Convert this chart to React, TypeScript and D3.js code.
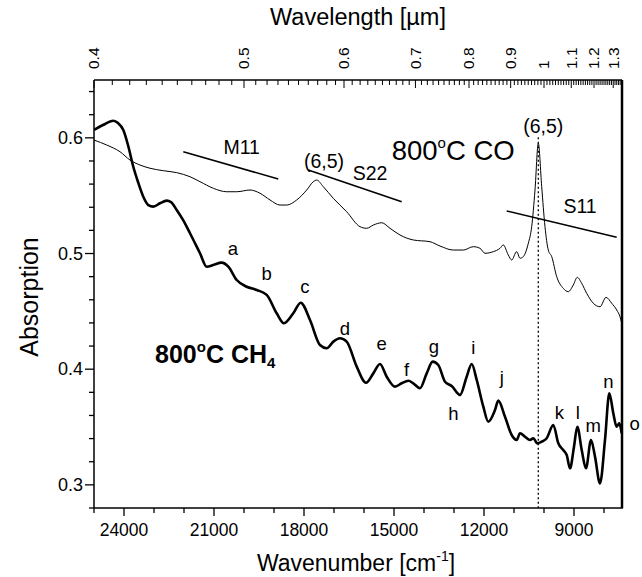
import React from "react";
import * as d3 from "d3";

// 800°C CO (thin) spectrum
const coWavenumber = [25000, 24577, 24133, 23800, 23467, 23133, 22690, 22243, 21800, 21467, 21023, 20577, 20243, 19800, 19467, 19133, 18800, 18577, 18243, 17910, 17690, 17577, 17357, 17023, 16577, 16133, 15910, 15690, 15410, 15133, 14800, 14357, 13800, 13467, 13023, 12690, 12357, 12133, 11967, 11690, 11467, 11357, 11190, 11077, 10910, 10800, 10690, 10523, 10410, 10300, 10190, 10077, 9967, 9857, 9743, 9577, 9357, 9190, 9023, 8890, 8743, 8577, 8357, 8133, 7933, 7743, 7577, 7467, 7410];
const coAbsorption = [0.5981, 0.5938, 0.588, 0.5808, 0.5765, 0.5737, 0.5716, 0.5699, 0.5664, 0.5621, 0.5564, 0.5534, 0.5534, 0.5549, 0.5521, 0.5463, 0.5419, 0.5419, 0.5463, 0.5549, 0.5621, 0.5635, 0.5578, 0.5477, 0.5361, 0.5232, 0.5218, 0.5246, 0.5266, 0.5218, 0.516, 0.5117, 0.5102, 0.5065, 0.503, 0.503, 0.5059, 0.5045, 0.5002, 0.5016, 0.5045, 0.5074, 0.4987, 0.4944, 0.5016, 0.4959, 0.4973, 0.5088, 0.5232, 0.5549, 0.5953, 0.5578, 0.5232, 0.503, 0.4973, 0.48, 0.4699, 0.467, 0.4728, 0.4794, 0.4742, 0.4656, 0.457, 0.454, 0.4621, 0.457, 0.4512, 0.4454, 0.4397];

// 800°C CH4 (thick) spectrum
const ch4Wavenumber = [25000, 24700, 24357, 24200, 24023, 23867, 23690, 23533, 23357, 23190, 23023, 22800, 22577, 22433, 22243, 22033, 21800, 21467, 21243, 21023, 20743, 20523, 20243, 19910, 19577, 19243, 18910, 18667, 18357, 18110, 17800, 17467, 17243, 17023, 16800, 16577, 16243, 15933, 15690, 15467, 15243, 14967, 14743, 14523, 14357, 14133, 13910, 13710, 13523, 13300, 13077, 12800, 12577, 12410, 12243, 12023, 11857, 11633, 11523, 11300, 11077, 10910, 10800, 10633, 10467, 10357, 10223, 10077, 9910, 9690, 9523, 9357, 9243, 9133, 9000, 8890, 8743, 8600, 8433, 8300, 8133, 7967, 7823, 7690, 7577, 7490, 7410];
const ch4Absorption = [0.6068, 0.6111, 0.6148, 0.6128, 0.6068, 0.5938, 0.575, 0.5618, 0.5491, 0.5419, 0.5405, 0.5434, 0.5457, 0.5445, 0.5376, 0.529, 0.5175, 0.5002, 0.4886, 0.4901, 0.4921, 0.4886, 0.4771, 0.4713, 0.4685, 0.4642, 0.4483, 0.4397, 0.4483, 0.4575, 0.4425, 0.4209, 0.4181, 0.4238, 0.4267, 0.4238, 0.4022, 0.3883, 0.3964, 0.4045, 0.3935, 0.3849, 0.3878, 0.39, 0.3878, 0.3835, 0.3964, 0.4065, 0.4036, 0.3892, 0.3855, 0.3777, 0.3935, 0.4045, 0.3907, 0.3676, 0.3546, 0.3647, 0.3728, 0.3589, 0.3431, 0.3388, 0.3446, 0.3416, 0.3388, 0.3403, 0.3359, 0.3373, 0.3403, 0.3518, 0.3359, 0.3301, 0.3258, 0.3143, 0.333, 0.3503, 0.3301, 0.3143, 0.3388, 0.3244, 0.3013, 0.3388, 0.3792, 0.3619, 0.3503, 0.3532, 0.3446];

const xTickValues = [24000, 21000, 18000, 15000, 12000, 9000];
const yTickValues = [0.3, 0.4, 0.5, 0.6];
const topTickLabels = ["0.4", "0.5", "0.6", "0.7", "0.8", "0.9", "1", "1.1", "1.2", "1.3"];

const peakLetters = ["a", "b", "c", "d", "e", "f", "g", "h", "i", "j", "k", "l", "m", "n", "o"];
const peakLetterWn = [20367, 19243, 17967, 16633, 15410, 14577, 13667, 13023, 12357, 11410, 9490, 8877, 8357, 7857, 6980];
const peakLetterAbs = [0.4987, 0.4771, 0.4659, 0.4296, 0.4166, 0.3941, 0.414, 0.3561, 0.4131, 0.3872, 0.3569, 0.3569, 0.3457, 0.3837, 0.3474];

// annotation bars: [wn1, abs1, wn2, abs2]
const bandNames = ["M11", "S22", "S11"];
const bandLines = [
  [22023, 0.588, 18857, 0.5644],
  [17857, 0.5722, 14743, 0.5448],
  [11243, 0.5368, 7577, 0.514],
];
const bandLabelPos = [
  [20077, 0.586],
  [15800, 0.5636],
  [8800, 0.535],
];
const chiralityLabel = "(6,5)";
const chiralityPos = [
  [17333, 0.5739],
  [10023, 0.6042],
];
const s11PeakWn = 10190;
const s11LineTop = 0.6005;

const W = 642;
const H = 577;
const M = { left: 94, right: 622, top: 80, bottom: 508 };
const FONT = "'Liberation Sans', Arial, Helvetica, sans-serif";

export default function App() {
  const x = d3.scaleLinear().domain([25000, 7400]).range([M.left, M.right]);
  const y = d3.scaleLinear().domain([0.28, 0.65]).range([M.bottom, M.top]);

  const line = d3
    .line<[number, number]>()
    .x((d) => x(d[0]))
    .y((d) => y(d[1]))
    .curve(d3.curveMonotoneX);

  const coPts: [number, number][] = coWavenumber.map((w, i) => [w, coAbsorption[i]]);
  const ch4Pts: [number, number][] = ch4Wavenumber.map((w, i) => [w, ch4Absorption[i]]);

  const xMinor = d3.range(25000, 7400, -1000);
  const yMinor = d3.range(0.28, 0.6501, 0.02);

  const topMinor = d3.range(40, 136).map((v) => v / 100).filter((l) => {
    const wn = 1e4 / l;
    return wn <= 25000 + 1 && wn >= 7400;
  });

  return (
    <svg width={W} height={H} style={{ position: "absolute", left: 0, top: 0, background: "#fff" }} fontFamily={FONT}>
      <rect x={0} y={0} width={W} height={H} fill="#fff" />
      <defs>
        <clipPath id="plotclip">
          <rect x={M.left} y={M.top} width={M.right - M.left} height={M.bottom - M.top} />
        </clipPath>
      </defs>

      {/* curves */}
      <g clipPath="url(#plotclip)">
        <path d={line(coPts) || ""} fill="none" stroke="#000" strokeWidth={1} />
        <path d={line(ch4Pts) || ""} fill="none" stroke="#000" strokeWidth={2.6} strokeLinejoin="round" />
      </g>

      {/* dotted S11 marker */}
      <line x1={x(s11PeakWn)} x2={x(s11PeakWn)} y1={y(s11LineTop)} y2={M.bottom} stroke="#000" strokeWidth={1.3} strokeDasharray="2,2.5" />

      {/* band lines */}
      {bandLines.map((b, i) => (
        <line key={"bl" + i} x1={x(b[0])} y1={y(b[1])} x2={x(b[2])} y2={y(b[3])} stroke="#000" strokeWidth={1.6} />
      ))}
      {bandNames.map((n, i) => (
        <text key={"bn" + i} x={x(bandLabelPos[i][0])} y={y(bandLabelPos[i][1])} textAnchor="middle" fontSize={19.5}>
          {n}
        </text>
      ))}
      {chiralityPos.map((p, i) => (
        <text key={"cp" + i} x={x(p[0])} y={y(p[1])} textAnchor="middle" fontSize={19.5}>
          {chiralityLabel}
        </text>
      ))}

      {/* sample labels */}
      <text x={x(15077)} y={y(0.5808)} fontSize={27.5}>
        800<tspan fontSize={15} dy={-12}>o</tspan>
        <tspan dy={12}>C CO</tspan>
      </text>
      <text x={x(22967)} y={y(0.4053)} fontSize={25} fontWeight="bold">
        800<tspan fontSize={15} dy={-11}>o</tspan>
        <tspan dy={11}>C CH</tspan>
        <tspan fontSize={15} dy={5}>4</tspan>
      </text>

      {/* peak letters */}
      {peakLetters.map((l, i) => (
        <text key={"pl" + i} x={x(peakLetterWn[i])} y={y(peakLetterAbs[i])} textAnchor="middle" fontSize={18.5}>
          {l}
        </text>
      ))}

      {/* frame */}
      <line x1={M.left} x2={M.right} y1={M.top} y2={M.top} stroke="#000" strokeWidth={1.5} />
      <line x1={M.left} x2={M.right + 1} y1={M.bottom} y2={M.bottom} stroke="#000" strokeWidth={1.5} />
      <line x1={M.left} x2={M.left} y1={M.top} y2={M.bottom} stroke="#000" strokeWidth={1.5} />
      <line x1={M.right} x2={M.right} y1={M.top} y2={M.bottom} stroke="#000" strokeWidth={2.5} />

      {/* bottom ticks */}
      {xMinor.map((v) => {
        const major = xTickValues.includes(v);
        return <line key={"xm" + v} x1={x(v)} x2={x(v)} y1={M.bottom} y2={M.bottom + (major ? 8 : 5)} stroke="#000" strokeWidth={1.3} />;
      })}
      {xTickValues.map((v) => (
        <text key={"xt" + v} x={x(v)} y={M.bottom + 28} textAnchor="middle" fontSize={17.5}>
          {v}
        </text>
      ))}

      {/* left ticks */}
      {yMinor.map((v, i) => {
        const major = yTickValues.some((t) => Math.abs(t - v) < 1e-6);
        return <line key={"ym" + i} x1={M.left - (major ? 9 : 5)} x2={M.left} y1={y(v)} y2={y(v)} stroke="#000" strokeWidth={1.3} />;
      })}
      {yTickValues.map((v) => (
        <text key={"yt" + v} x={M.left - 11} y={y(v)} dy="0.35em" textAnchor="end" fontSize={18}>
          {v.toFixed(1)}
        </text>
      ))}

      {/* top ticks (wavelength) */}
      {topMinor.map((l) => {
        const major = Math.abs(l * 10 - Math.round(l * 10)) < 1e-6;
        const px = x(1e4 / l);
        return <line key={"tm" + l} x1={px} x2={px} y1={M.top} y2={M.top + (major ? 8 : 5)} stroke="#000" strokeWidth={1} />;
      })}
      {topTickLabels.map((s) => {
        const px = x(1e4 / parseFloat(s));
        return (
          <text key={"tl" + s} transform={`translate(${px},${M.top - 11}) rotate(-90)`} dy="0.35em" textAnchor="start" fontSize={15.5}>
            {s}
          </text>
        );
      })}

      {/* axis titles */}
      <text x={(M.left + M.right) / 2} y={25} textAnchor="middle" fontSize={23.5}>
        Wavelength [µm]
      </text>
      <text x={(M.left + M.right) / 2 - 2} y={571} textAnchor="middle" fontSize={23}>
        Wavenumber [cm<tspan fontSize={14} dy={-10}>-1</tspan>
        <tspan dy={10}>]</tspan>
      </text>
      <text transform={`translate(38,${(M.top + M.bottom) / 2 + 3}) rotate(-90)`} textAnchor="middle" fontSize={25}>
        Absorption
      </text>
    </svg>
  );
}
